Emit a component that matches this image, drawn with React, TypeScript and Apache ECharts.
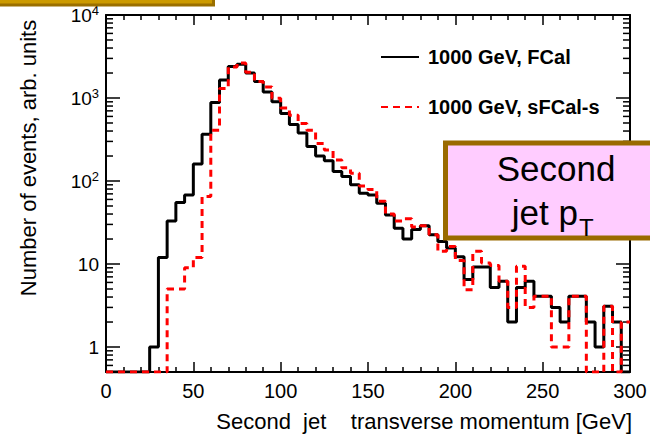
import React, { useEffect, useRef } from "react";
import * as echarts from "echarts";

const FONT = "'Liberation Sans', Arial, Helvetica, sans-serif";

const X_MIN = 0;
const X_MAX = 300;
const BIN_WIDTH = 5;
const Y_MIN = 0.5;
const Y_MAX = 10000;
const X_TICK_STEP = 50;

const SERIES_NAMES = ["1000 GeV, FCal", "1000 GeV, sFCal-s"];

// bin contents, bins of 5 GeV from 0 to 300
const FCAL = [
  0, 0, 0, 0, 0, 1, 12, 33, 55, 68,
  160, 365, 880, 1650, 2400, 2550, 2000, 1580, 1180, 900,
  650, 480, 380, 260, 200, 176, 130, 113, 90, 71,
  68, 54, 39, 27, 20, 26, 29, 22.5, 18.7, 15.6,
  12.2, 6.5, 9.2, 9.2, 5.2, 6.2, 2, 5.2, 6.2, 4.1,
  4.1, 3, 2, 4.1, 4.1, 2, 1, 3.1, 2, 0,
];
const SFCAL = [
  0, 0, 0, 0, 0, 0, 0, 5, 5, 9,
  12, 65, 410, 1300, 2360, 2640, 2050, 1580, 1360, 990,
  760, 620, 494, 410, 284, 236, 179, 144, 124, 87,
  79, 57, 40, 33, 35, 28, 29, 22.5, 14.2, 16.3,
  11, 4.9, 14.2, 10.3, 9.6, 6.2, 3, 9.4, 3, 4.1,
  4.1, 1, 1, 4.1, 4.1, 0, 0, 3.1, 0, 2,
];

const MINOR_MANTISSAS = [2, 3, 4, 5, 6, 7, 8, 9];
const DECADES = [0.1, 1, 10, 100, 1000];

function histPoints(bins: number[]) {
  const pts: number[][] = bins.map((v, i) => [X_MIN + i * BIN_WIDTH, Math.max(v, Y_MIN)]);
  pts.push([X_MAX, Math.max(bins[bins.length - 1], Y_MIN)]);
  return pts;
}

const SUP: Record<number, string> = { 2: "2", 3: "3", 4: "4" };

export default function App() {
  const ref = useRef<HTMLDivElement>(null);
  useEffect(() => {
    if (!ref.current) return;
    const chart = echarts.init(ref.current, null, { renderer: "svg" });

    const minorTicks: number[][] = [];
    DECADES.forEach((d) =>
      MINOR_MANTISSAS.forEach((m) => {
        const v = m * d;
        if (v > Y_MIN && v < Y_MAX) minorTicks.push([X_MIN, v]);
      })
    );

    const yLabel = (v: number) => {
      const e = Math.round(Math.log10(v));
      if (Math.abs(Math.log10(v) - e) > 1e-6) return "";
      if (e === 0) return "{b|1}";
      if (e === 1) return "{b|10}";
      return `{b|10}{s|${SUP[e] ?? e}}`;
    };

    const xAxisBase = {
      type: "value",
      min: X_MIN,
      max: X_MAX,
      interval: X_TICK_STEP,
      splitLine: { show: false },
      axisLine: { show: true, onZero: false, lineStyle: { color: "#000", width: 2 } },
      axisTick: { show: true, inside: true, length: 10, lineStyle: { color: "#000", width: 1.5 } },
      minorTick: { show: true, splitNumber: 5, length: 5, lineStyle: { color: "#000", width: 1.5 } },
    };
    const yAxisBase = {
      type: "log",
      logBase: 10,
      min: Y_MIN,
      max: Y_MAX,
      splitLine: { show: false },
      axisLine: { show: true, onZero: false, lineStyle: { color: "#000", width: 2 } },
      axisTick: { show: true, inside: true, length: 14, lineStyle: { color: "#000", width: 1.5 } },
    };

    const legendBase = {
      orient: "horizontal",
      left: 375,
      itemWidth: 38,
      itemHeight: 20,
      selectedMode: false,
      itemStyle: { opacity: 0 },
      textStyle: { fontFamily: FONT, fontSize: 20, fontWeight: "bold", color: "#000", padding: [0, 0, 0, 4] },
    };

    chart.setOption({
      animation: false,
      backgroundColor: "#fff",
      grid: { left: 106, top: 15, width: 524, height: 357, containLabel: false },
      legend: [
        { ...legendBase, top: 42, data: [SERIES_NAMES[0]] },
        { ...legendBase, top: 92, data: [SERIES_NAMES[1]] },
      ],
      xAxis: [
        {
          ...xAxisBase,
          position: "bottom",
          axisLabel: { show: true, fontFamily: FONT, fontSize: 20, color: "#000", margin: 9 },
        },
        { ...xAxisBase, position: "top", axisLabel: { show: false } },
      ],
      yAxis: [
        {
          ...yAxisBase,
          position: "left",
          axisLabel: {
            show: true,
            margin: 7,
            formatter: yLabel,
            rich: {
              b: { fontFamily: FONT, fontSize: 19, color: "#000", lineHeight: 22 },
              s: { fontFamily: FONT, fontSize: 13, color: "#000", lineHeight: 13, verticalAlign: "top" },
            },
          },
        },
        { ...yAxisBase, position: "right", axisLabel: { show: false } },
      ],
      series: [
        {
          type: "custom",
          name: "minor",
          xAxisIndex: 0,
          yAxisIndex: 0,
          silent: true,
          clip: false,
          data: minorTicks,
          renderItem: (params: any, api: any) => {
            const v = api.value(1);
            const p = api.coord([X_MIN, v]);
            const q = api.coord([X_MAX, v]);
            const st = { stroke: "#000", lineWidth: 1.5 };
            return {
              type: "group",
              children: [
                { type: "line", shape: { x1: p[0], y1: p[1], x2: p[0] + 7, y2: p[1] }, style: st },
                { type: "line", shape: { x1: q[0] - 7, y1: q[1], x2: q[0], y2: q[1] }, style: st },
              ],
            };
          },
        },
        {
          type: "line",
          name: SERIES_NAMES[0],
          step: "end",
          symbol: "none",
          data: histPoints(FCAL),
          lineStyle: { color: "#000", width: 3 },
          itemStyle: { color: "#000" },
          z: 3,
        },
        {
          type: "line",
          name: SERIES_NAMES[1],
          step: "end",
          symbol: "none",
          data: histPoints(SFCAL),
          lineStyle: { color: "#ff0000", width: 3, type: [7, 5] },
          itemStyle: { color: "#ff0000" },
          z: 4,
        },
      ],
      graphic: [
        {
          type: "rect",
          z: 100,
          shape: { x: -10, y: -30, width: 223.5, height: 35 },
          style: { fill: "#CC9A00", stroke: "#9A6F00", lineWidth: 3 },
        },
        {
          type: "rect",
          z: 100,
          shape: { x: 445.5, y: 143, width: 230, height: 95 },
          style: { fill: "#FFCCFF", stroke: "#9A6A00", lineWidth: 5 },
        },
        {
          type: "text",
          z: 101,
          x: 556,
          y: 168,
          style: { text: "Second", fontFamily: FONT, fontSize: 35, fill: "#000", align: "center", verticalAlign: "middle" },
        },
        {
          type: "text",
          z: 101,
          x: 578,
          y: 212,
          style: { text: "jet p", fontFamily: FONT, fontSize: 35, fill: "#000", align: "right", verticalAlign: "middle" },
        },
        {
          type: "text",
          z: 101,
          x: 579,
          y: 227,
          style: { text: "T", fontFamily: FONT, fontSize: 24, fill: "#000", align: "left", verticalAlign: "middle" },
        },
        {
          type: "text",
          z: 50,
          x: 632,
          y: 421,
          style: {
            text: "Second  jet    transverse momentum [GeV]",
            fontFamily: FONT,
            fontSize: 22,
            fill: "#000",
            align: "right",
            verticalAlign: "middle",
          },
        },
        {
          type: "text",
          z: 50,
          x: 28,
          y: 158,
          rotation: Math.PI / 2,
          style: {
            text: "Number of events, arb. units",
            fontFamily: FONT,
            fontSize: 22,
            fill: "#000",
            align: "center",
            verticalAlign: "middle",
          },
        },
      ],
    });
    return () => chart.dispose();
  }, []);
  return (
    <div
      ref={ref}
      style={{ position: "fixed", left: 0, top: 0, width: 650, height: 437, background: "#fff" }}
    />
  );
}
